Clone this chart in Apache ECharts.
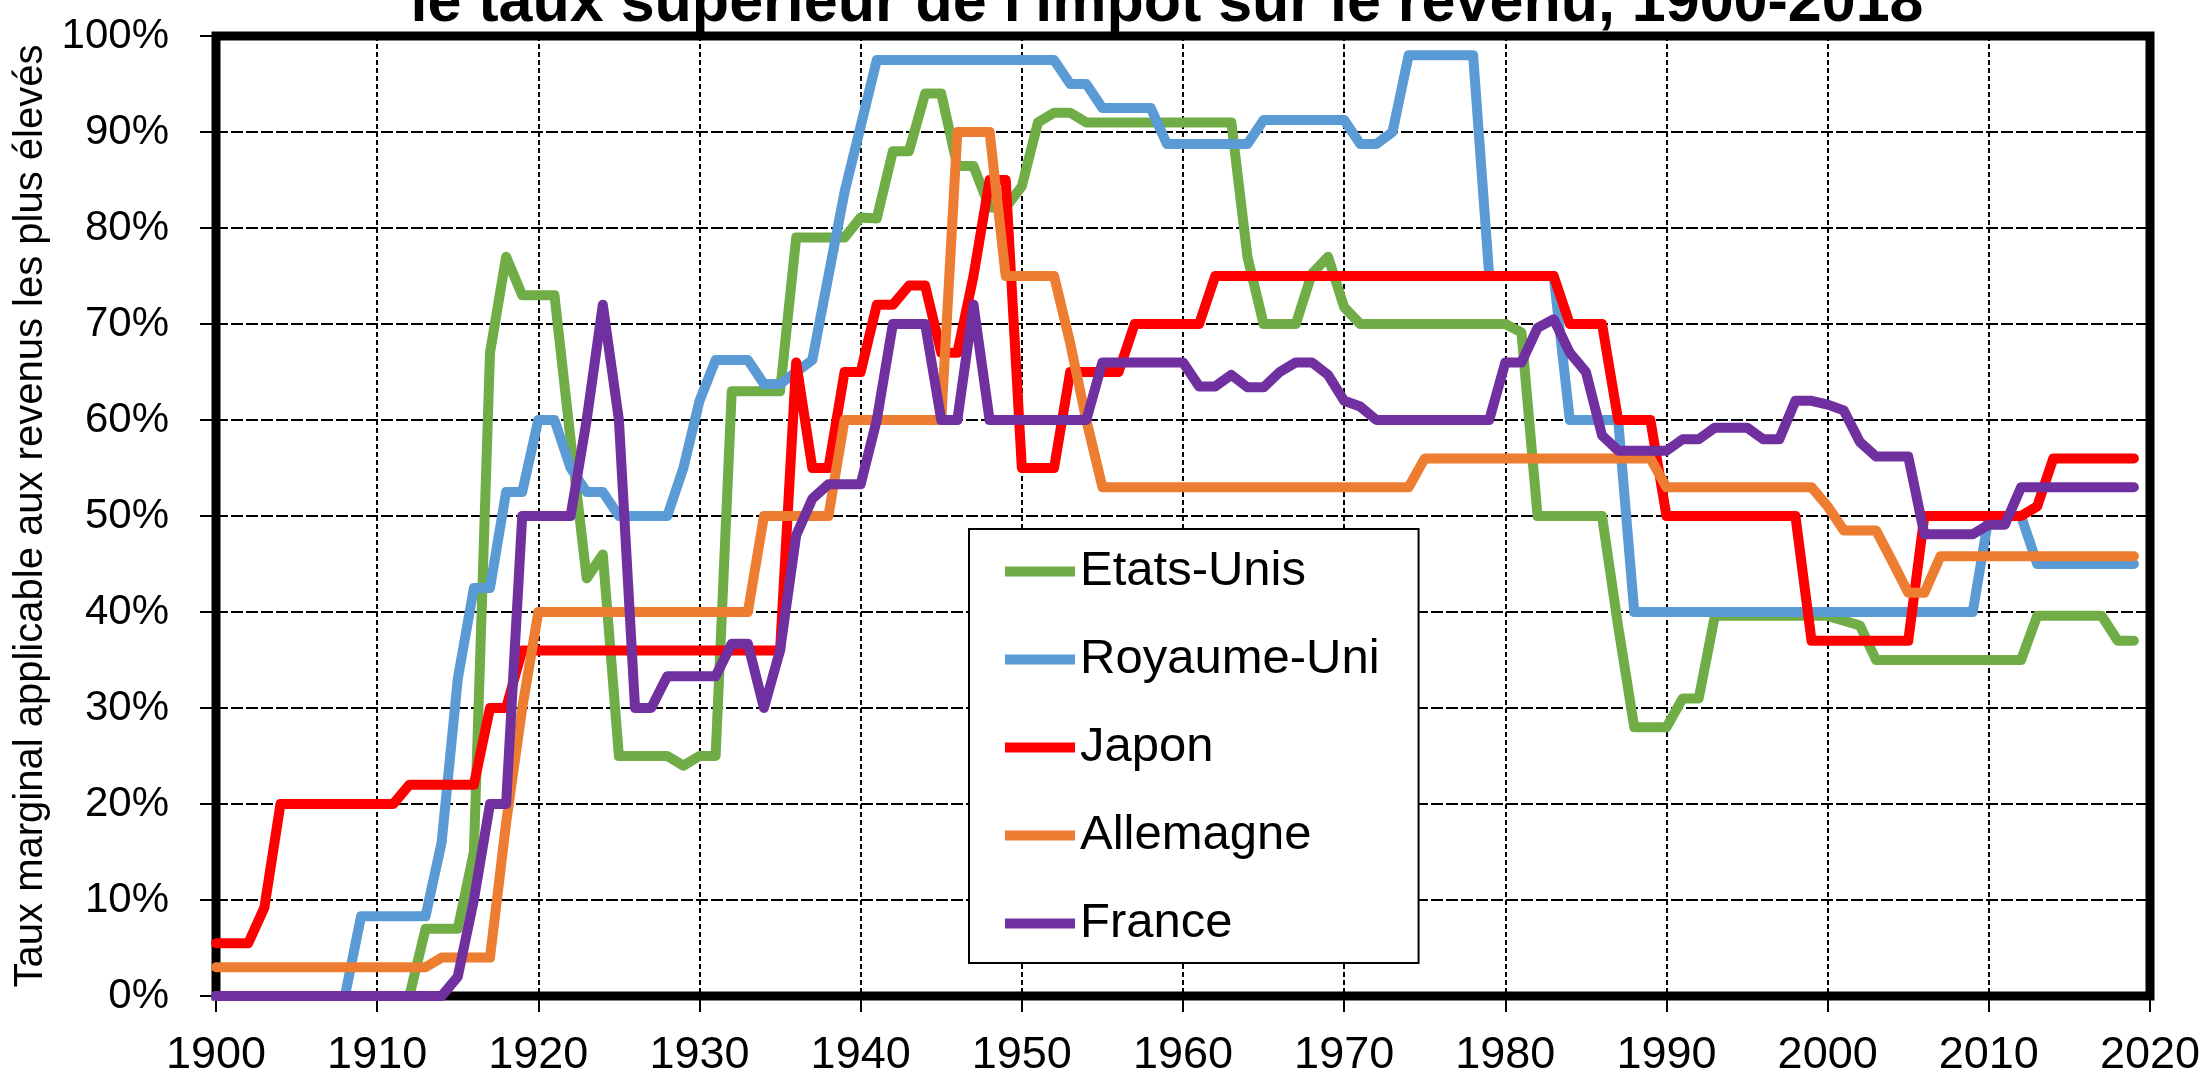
<!DOCTYPE html>
<html>
<head>
<meta charset="utf-8">
<title>Taux supérieur de l'impôt sur le revenu, 1900-2018</title>
<script src="https://cdn.jsdelivr.net/npm/echarts@6/dist/echarts.min.js"></script>
<style>
  html, body { margin: 0; padding: 0; background: #fff; }
  #chart { width: 2211px; height: 1078px; }
</style>
</head>
<body>
<div id="chart"></div>
<script>
// one value per year, starting in 1900 (ten values per line = one decade)
const firstYear = 1900;
const countries = ['Etats-Unis', 'Royaume-Uni', 'Japon', 'Allemagne', 'France'];
const colors = ['#70AD47', '#5B9BD5', '#FF0000', '#ED7D31', '#7030A0'];

const etatsUnis = [
  0, 0, 0, 0, 0, 0, 0, 0, 0, 0,
  0, 0, 0, 7, 7, 7, 15, 67, 77, 73,
  73, 73, 58, 43.5, 46, 25, 25, 25, 25, 24,
  25, 25, 63, 63, 63, 63, 79, 79, 79, 79,
  81.1, 81, 88, 88, 94, 94, 86.45, 86.45, 82.13, 82.13,
  84.36, 91, 92, 92, 91, 91, 91, 91, 91, 91,
  91, 91, 91, 91, 77, 70, 70, 70, 75.25, 77,
  71.75, 70, 70, 70, 70, 70, 70, 70, 70, 70,
  70, 69.13, 50, 50, 50, 50, 50, 38.5, 28, 28,
  28, 31, 31, 39.6, 39.6, 39.6, 39.6, 39.6, 39.6, 39.6,
  39.6, 39.1, 38.6, 35, 35, 35, 35, 35, 35, 35,
  35, 35, 35, 39.6, 39.6, 39.6, 39.6, 39.6, 37, 37
];
const royaumeUni = [
  0, 0, 0, 0, 0, 0, 0, 0, 0, 8.3,
  8.3, 8.3, 8.3, 8.3, 16, 33, 42.5, 42.5, 52.5, 52.5,
  60, 60, 55, 52.5, 52.5, 50, 50, 50, 50, 55,
  62, 66.25, 66.25, 66.25, 63.75, 63.75, 65, 66.25, 75, 83.75,
  90.6, 97.5, 97.5, 97.5, 97.5, 97.5, 97.5, 97.5, 97.5, 97.5,
  97.5, 97.5, 97.5, 95, 95, 92.5, 92.5, 92.5, 92.5, 88.75,
  88.75, 88.75, 88.75, 88.75, 88.75, 91.25, 91.25, 91.25, 91.25, 91.25,
  91.25, 88.75, 88.75, 90, 98, 98, 98, 98, 98, 75,
  75, 75, 75, 75, 60, 60, 60, 60, 40, 40,
  40, 40, 40, 40, 40, 40, 40, 40, 40, 40,
  40, 40, 40, 40, 40, 40, 40, 40, 40, 40,
  50, 50, 50, 45, 45, 45, 45, 45, 45, 45
];
const japon = [
  5.5, 5.5, 5.5, 9.2, 20, 20, 20, 20, 20, 20,
  20, 20, 22, 22, 22, 22, 22, 30, 30, 36,
  36, 36, 36, 36, 36, 36, 36, 36, 36, 36,
  36, 36, 36, 36, 36, 36, 66, 55, 55, 65,
  65, 72, 72, 74, 74, 67, 67, 75, 85, 85,
  55, 55, 55, 65, 65, 65, 65, 70, 70, 70,
  70, 70, 75, 75, 75, 75, 75, 75, 75, 75,
  75, 75, 75, 75, 75, 75, 75, 75, 75, 75,
  75, 75, 75, 75, 70, 70, 70, 60, 60, 60,
  50, 50, 50, 50, 50, 50, 50, 50, 50, 37,
  37, 37, 37, 37, 37, 37, 50, 50, 50, 50,
  50, 50, 50, 51, 56, 56, 56, 56, 56, 56
];
const allemagne = [
  3, 3, 3, 3, 3, 3, 3, 3, 3, 3,
  3, 3, 3, 3, 4, 4, 4, 4, 18, 30,
  40, 40, 40, 40, 40, 40, 40, 40, 40, 40,
  40, 40, 40, 40, 50, 50, 50, 50, 50, 60,
  60, 60, 60, 60, 60, 60, 90, 90, 90, 75,
  75, 75, 75, 68, 60, 53, 53, 53, 53, 53,
  53, 53, 53, 53, 53, 53, 53, 53, 53, 53,
  53, 53, 53, 53, 53, 56, 56, 56, 56, 56,
  56, 56, 56, 56, 56, 56, 56, 56, 56, 56,
  53, 53, 53, 53, 53, 53, 53, 53, 53, 53,
  51, 48.5, 48.5, 48.5, 45.3, 42, 42, 45.8, 45.8, 45.8,
  45.8, 45.8, 45.8, 45.8, 45.8, 45.8, 45.8, 45.8, 45.8, 45.8
];
const france = [
  0, 0, 0, 0, 0, 0, 0, 0, 0, 0,
  0, 0, 0, 0, 0, 2, 10, 20, 20, 50,
  50, 50, 50, 60, 72, 60, 30, 30, 33.3, 33.3,
  33.3, 33.3, 36.7, 36.7, 30, 36, 48, 51.8, 53.3, 53.3,
  53.3, 60, 70, 70, 70, 60, 60, 72, 60, 60,
  60, 60, 60, 60, 60, 66, 66, 66, 66, 66,
  66, 63.5, 63.5, 64.7, 63.4, 63.4, 65, 66, 66, 64.7,
  62, 61.4, 60, 60, 60, 60, 60, 60, 60, 60,
  66, 66, 69.6, 70.5, 67, 65, 58.4, 56.8, 56.8, 56.8,
  56.8, 58, 58, 59.2, 59.2, 59.2, 58, 58, 62, 62,
  61.6, 61, 57.7, 56.2, 56.2, 56.2, 48.1, 48.1, 48.1, 48.1,
  49.1, 49.1, 53, 53, 53, 53, 53, 53, 53, 53
];

const titleText = "le taux supérieur de l'impôt sur le revenu, 1900-2018";
const yName = 'Taux marginal applicable aux revenus les plus élevés';

const font = "'Liberation Sans', Arial, sans-serif";
const allValues = [etatsUnis, royaumeUni, japon, allemagne, france];

const chart = echarts.init(document.getElementById('chart'));

const series = countries.map(function (name, k) {
  return {
    name: name,
    type: 'line',
    showSymbol: false,
    symbol: 'none',
    color: colors[k],
    lineStyle: { width: 10, color: colors[k], cap: 'round', join: 'round' },
    data: allValues[k].map(function (v, i) { return [firstYear + i, v]; })
  };
});

const option = {
  animation: false,
  backgroundColor: '#fff',
  textStyle: { fontFamily: font, color: '#000' },
  title: {
    text: titleText,
    left: 1167,
    top: -26,
    textAlign: 'center',
    padding: 0,
    textStyle: { fontFamily: font, fontSize: 61, fontWeight: 'bold', color: '#000' }
  },
  grid: {
    left: 216,
    right: 61,
    top: 36,
    bottom: 79,
    show: true,
    borderColor: '#000',
    borderWidth: 9,
    backgroundColor: 'transparent'
  },
  legend: {
    data: countries,
    orient: 'vertical',
    left: 969,
    top: 529,
    padding: [18, 39, 15, 36],
    itemWidth: 70,
    itemHeight: 10,
    itemGap: 39,
    icon: 'rect',
    backgroundColor: '#fff',
    borderColor: '#000',
    borderWidth: 2,
    textStyle: { fontFamily: font, fontSize: 49, color: '#000' }
  },
  xAxis: {
    type: 'value',
    min: 1900,
    max: 2020,
    interval: 10,
    axisLine: { show: false },
    axisTick: { show: true, length: 16, lineStyle: { color: '#000', width: 2 } },
    axisLabel: {
      fontFamily: font, fontSize: 45, color: '#000', margin: 37,
      formatter: function (v) { return String(v); }
    },
    splitLine: { show: true, lineStyle: { color: '#000', width: 2, type: [5, 3] } }
  },
  yAxis: {
    type: 'value',
    min: 0,
    max: 100,
    interval: 10,
    name: yName,
    nameLocation: 'middle',
    nameRotate: 90,
    nameGap: 157,
    nameTextStyle: { fontFamily: font, fontSize: 40, color: '#000' },
    axisLine: { show: false },
    axisTick: { show: true, length: 16, lineStyle: { color: '#000', width: 2 } },
    axisLabel: { fontFamily: font, fontSize: 42, color: '#000', margin: 47, formatter: '{value}%' },
    splitLine: { show: true, lineStyle: { color: '#000', width: 2, type: [12, 3] } }
  },
  series: series
};

chart.setOption(option);
</script>
</body>
</html>
